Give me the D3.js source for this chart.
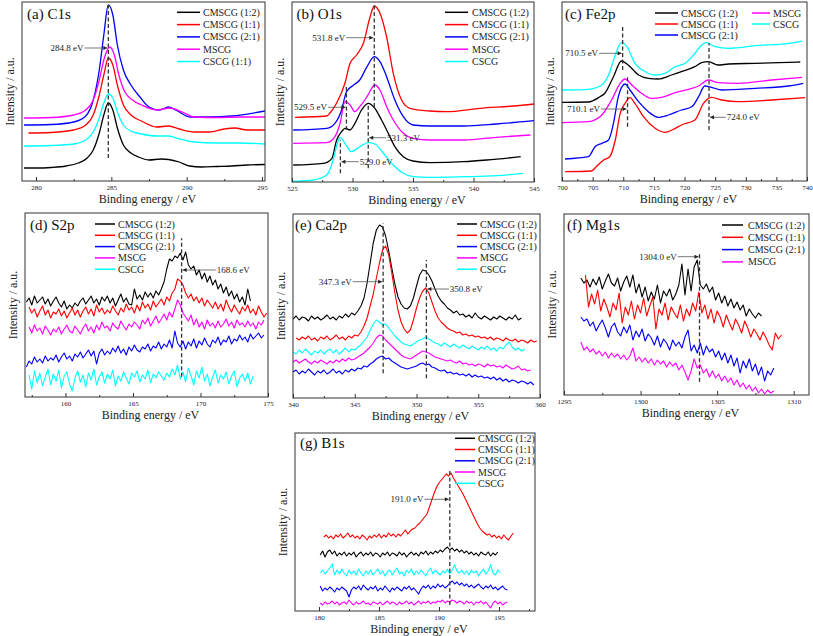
<!DOCTYPE html>
<html>
<head>
<meta charset="utf-8">
<script src="https://cdn.jsdelivr.net/npm/d3@7"></script>
<style>
body{margin:0;background:#fff}
svg{font-family:"Liberation Serif","Times New Roman",serif}
svg text{font-family:"Liberation Serif","Times New Roman",serif}
</style>
</head>
<body>
<svg id="fig" width="813" height="636"></svg>
<script>
// legend names and colours (order: black, red, blue, magenta, cyan)
var namesA = ["CMSCG (1:2)","CMSCG (1:1)","CMSCG (2:1)","MSCG","CSCG (1:1)"];
var names5 = ["CMSCG (1:2)","CMSCG (1:1)","CMSCG (2:1)","MSCG","CSCG"];
var names4 = ["CMSCG (1:2)","CMSCG (1:1)","CMSCG (2:1)","MSCG"];
var lineColors = ["#000000","#ff0000","#0000ff","#ff00ff","#00ffff"];

// (a) C1s  [binding energy, intensity]
var c1sBlack = [[279.2,13],[280,13],[281,13.5],[282,15],[282.8,18],[283.4,23],[283.8,31],[284.2,48],[284.5,66],[284.8,78],[285.1,71],[285.4,53],[285.8,36],[286.3,28],[286.8,24],[287.5,21],[288.3,22],[288.8,21.5],[289.5,19],[290.2,15],[291,14],[292,14.5],[293,15],[294,16],[295.2,16.5]];
var c1sRed = [[279.5,48],[281,48.5],[282.5,51],[283.3,56],[283.8,66],[284.2,86],[284.5,106],[284.8,123],[285.1,116],[285.4,96],[285.8,76],[286.3,66],[287,60],[288,54],[288.8,55],[289.5,52],[290.5,49],[291.5,49],[292.5,52],[293.2,53],[294,51],[295.2,51]];
var c1sBlue = [[279.2,56],[281,56.5],[282.5,59],[283.3,65],[283.8,81],[284.2,111],[284.5,146],[284.8,176],[285.1,166],[285.4,136],[285.8,111],[286.3,96],[286.9,84],[287.5,74],[288.2,71],[288.8,74],[289.4,70],[290.2,64],[291.5,64],[293,65],[295.2,70]];
var c1sMagenta = [[279.2,63],[281,63.5],[282.5,66],[283.3,71],[283.8,81],[284.2,101],[284.5,121],[284.9,134],[285.2,126],[285.5,106],[285.9,89],[286.4,81],[287,76],[288,71],[288.9,73],[289.7,69],[290.5,64],[292,63.5],[293.5,64],[295.2,64]];
var c1sCyan = [[279.2,35],[281,35.5],[282.5,37],[283.3,41],[283.8,49],[284.2,63],[284.5,78],[284.8,87],[285.1,83],[285.4,69],[285.8,56],[286.3,50],[287,47],[288,45],[288.8,45],[289.5,42],[290.5,39],[292,38],[293.5,38],[295.2,37]];

// (b) O1s
var o1sBlack = [[525.1,17],[527.6,18.7],[528.3,23.7],[528.69,42],[529.1,50.3],[529.38,53.7],[529.8,52],[530.2,58.7],[530.75,72],[531.3,78.7],[531.85,73.7],[532.4,62],[532.96,48.7],[533.5,35.3],[534.2,25.3],[535,21],[536.4,19.3],[539.2,20.3],[541.1,22],[543.9,25.3]];
var o1sRed = [[525.25,64.7],[527.87,66],[528.14,69],[528.69,79],[529.38,99],[529.8,118.7],[530.34,127],[530.9,138.7],[531.45,165],[531.8,176],[532.27,168.7],[532.82,145],[533.37,108.7],[534.06,82],[534.75,73.7],[536.4,71],[537.78,70.3],[540.54,73.7],[543.3,76],[545,78]];
var o1sBlue = [[525.1,52],[527.87,53.7],[528.55,58.7],[529.1,72],[529.5,90.3],[530.1,97],[530.6,102],[531.2,115.3],[531.8,125.3],[532.27,120.3],[532.82,105.3],[533.5,82],[534.2,65.3],[535,57],[536.4,56],[539.2,56],[541.9,58],[545,61.3]];
var o1sMagenta = [[525.1,38.7],[527.87,39.3],[528.55,45.3],[528.97,58.7],[529.38,80.3],[529.8,77],[530.2,70.3],[530.6,75.3],[531.2,85.3],[531.85,97],[532.27,92],[532.82,75.3],[533.37,62],[534.2,48.7],[535,43.7],[536.4,42],[539.2,42],[541.9,44.7],[544.7,47]];
var o1sCyan = [[525,0.5],[526.76,2],[527.87,7],[528.4,22],[528.75,38.7],[528.97,44.7],[529.38,38.7],[529.9,30.3],[530.6,35.3],[531.3,39.3],[531.85,38],[532.55,28.7],[533.37,17],[534.2,8.7],[535,5.3],[536.4,4.7],[539.2,5.3],[541.9,6.3],[544.1,8.7]];

// (c) Fe2p
var fe2pBlack = [[700,78.7],[704.3,79],[706.2,84.3],[707,87.7],[708.4,104.3],[709.7,120],[710.8,116],[712.5,106],[714.1,102.7],[715.7,102],[717.9,106],[719.5,109.3],[721.7,114.3],[722.8,118.3],[723.9,119.3],[725.5,116],[727.2,117],[731.5,117.7],[737,118.7],[738.9,119]];
var fe2pRed = [[700.5,9.3],[704.8,10],[705.7,15],[706.8,21],[707.8,24.3],[708.7,41],[709.5,67.7],[710.3,77.7],[711.1,83.3],[711.9,77.7],[713.3,64.3],[715.2,52.7],[716.8,48.7],[718.5,52.7],[719.5,56],[721.7,61],[723.1,77.7],[724.4,83.7],[726.1,81],[728.8,79.3],[734.2,81],[739.7,83.3]];
var fe2pBlue = [[700.5,22],[704.3,24.3],[705.4,34.3],[706.5,37.7],[707.6,41],[708.4,57.7],[709.2,84.3],[710.3,97],[711.1,91],[712.5,79.3],[714.1,69.3],[715.7,63.7],[717.4,66],[719.5,71],[721.2,74.3],[722.3,84.3],[723.3,95],[724.4,93.7],[726.1,91],[731.5,92.7],[737,95],[739.4,97.7]];
var fe2pMagenta = [[700,58.3],[704.3,59.3],[706.5,66],[708.1,81],[709.5,97.7],[710.3,102],[711.4,96],[713,87.7],[714.6,82.7],[716.3,83.7],[718.5,88.3],[720.6,91.7],[722.3,95],[723.9,101],[725.5,98.3],[728.8,97.7],[734.2,101],[739.2,103.7]];
var fe2pCyan = [[700,91],[704.3,91.7],[706.5,96],[707.6,106],[708.7,126],[709.7,138.3],[710.6,134.3],[711.9,117.7],[713.6,109.3],[715.2,106],[716.8,107.7],[718.5,114.3],[720.1,117.7],[721.7,127.7],[722.8,136],[723.6,138.3],[725,134.3],[727.2,132.7],[731.5,135.3],[737,137.7],[739.2,140]];

// (d) S2p, evenly sampled: [start, step] and intensities
var s2pBlack = [157.1, 0.2, [95,99,92,101,94,97,100,93,98,91, 96,100,94,90,96,88,92,89,94,91, 96,99,93,97,101,94,98,92,100,96, 101,94,99,91,97,103,95,99,93,92, 108,98,102,97,105,100,104,99,106,102, 108,115,128,138,136,141,139,144,137,145, 132,128,131,122,127,118,124,115,121,112, 117,108,113,104,110,101,106,98,103,95, 100,92,108,96]];
var s2pRed = [157.3, 0.2, [90,84,88,80,86,91,82,87,79,85, 83,88,81,86,79,84,89,82,87,80, 86,90,83,88,81,92,85,89,83,87, 84,91,86,82,89,85,93,87,90,84, 92,86,95,89,93,87,96,90,94,98, 92,100,96,104,108,118,116,112,104,99, 103,96,100,94,99,91,97,93,89,95, 88,93,86,97,90,85,92,87,83,90, 86,92,84,88,82,91,85,80,84]];
var s2pBlue = [157.1, 0.2, [30,36,33,40,35,38,34,41,36,39, 37,42,35,40,44,38,41,36,43,40, 45,39,43,47,41,46,33,44,48,42, 46,43,49,45,51,44,48,42,50,46, 52,47,45,50,48,53,46,51,49,55, 48,53,50,57,49,66,54,50,56,48, 55,51,58,49,56,52,59,53,50,57, 54,60,52,57,55,61,53,58,56,62, 57,60,55,63,58,61,64,59,62]];
var s2pMagenta = [157.3, 0.2, [70,64,72,66,69,63,71,67,62,68, 65,70,63,68,72,66,64,71,67,63, 69,73,66,70,64,72,67,75,69,71, 66,74,70,68,76,71,67,73,70,75, 72,68,77,73,79,71,76,81,74,78, 83,77,85,80,88,97,92,84,80,76, 82,72,78,70,75,68,77,71,74,69, 76,70,73,78,71,75,69,77,72,74, 70,76,71,74,68,75,72,77]];
var s2pCyan = [157.3, 0.2, [22,8,26,14,24,11,20,28,12,23, 16,27,9,21,25,13,6,19,26,15, 22,10,24,17,28,12,20,25,14,23, 18,27,11,21,16,25,19,13,24,20, 26,15,22,18,27,14,23,19,25,21, 17,24,20,28,22,32,18,25,15,29, 21,12,26,19,30,16,23,11,20,27, 14,22,18,25,13,21,26,10,19,23, 16,24,13,21]];

// (e) Ca2p
var ca2pBlack = [340, 0.25, [79,82,78,81,80,77,82,79,81,78, 80,83,79,81,78,82,80,84,81,85, 83,87,92,100,115,135,155,168,173,171, 162,147,130,114,101,94,90,89,92,100, 112,123,128,127,123,117,109,102,97,94, 90,88,85,87,83,84,81,83,80,85, 81,79,82,80,78,81,79,82,80,78, 81,79,83,78,80]];
var ca2pRed = [340.25, 0.25, [60,58,61,59,62,58,60,57,61,59, 62,58,60,63,59,61,58,62,60,63, 62,66,72,80,92,104,120,135,148,152, 143,125,105,88,76,69,65,68,78,90, 100,107,110,105,96,87,80,76,73,70, 68,67,65,66,63,64,62,63,61,62, 60,61,59,61,58,60,59,57,60,58, 57,59,56,58,57,55,58,56,57]];
var ca2pBlue = [340, 0.25, [26,28,24,27,25,29,26,23,27,25, 28,24,26,29,25,27,24,28,26,29, 27,30,29,32,31,34,36,39,41,42, 39,40,37,35,33,31,30,29,30,31, 32,34,35,33,34,31,30,28,27,28, 25,26,24,25,23,24,22,24,21,23, 21,22,20,21,19,21,18,20,17,19, 16,18,17,15,17,16,14,16,13]];
var ca2pMagenta = [340, 0.25, [36,38,35,37,39,36,34,37,35,38, 36,34,37,35,38,36,39,37,40,38, 39,41,43,45,48,51,55,60,63,62, 58,55,52,49,46,43,41,40,39,41, 43,45,47,46,45,43,41,40,39,38, 37,38,36,35,37,34,35,33,34,32, 34,33,31,34,32,33,31,32,30,33, 31,29,30,32,28,29,27,28]];
var ca2pCyan = [340, 0.25, [46,44,48,45,49,46,43,47,45,48, 44,47,49,45,48,44,47,50,46,49, 48,51,53,57,61,68,74,78,76,73, 74,70,66,62,59,56,54,53,52,54, 56,58,59,61,59,57,55,54,52,55, 53,51,54,52,50,53,51,49,52,50, 48,51,49,52,48,50,47,51,49,53, 56,51,48,50,47,49]];

// (f) Mg1s
var mg1sBlack = [1296.1, 0.2, [117,112,115,108,116,110,118,106,114,121, 112,109,117,104,113,119,108,120,102,111, 98,108,94,103,96,110,92,104,99,106, 95,101,110,131,100,126,104,128,135,110, 106,111,103,108,95,102,92,99,89,96, 87,93,85,90,79,86,81,77,82,79]];
var mg1sRed = [1296.4, 0.2, [120,88,101,91,105,84,96,88,78,92, 85,102,72,88,80,94,76,90,82,97, 79,89,98,66,86,80,92,75,88,82, 77,90,74,86,79,92,84,103,82,90, 76,86,72,84,78,68,80,72,65,76, 70,62,74,67,58,66,61,55,63,57, 50,45,62,56,60]];
var mg1sBlue = [1296.1, 0.2, [78,74,76,69,73,64,70,75,67,58, 68,72,63,59,68,62,70,55,64,58, 66,54,61,57,50,59,48,56,52,45, 55,49,53,47,58,65,44,50,42,52, 40,49,43,46,38,44,35,42,32,40, 29,37,22,34,27,36,24,31,20,28, 14,24,20,27]];
var mg1sMagenta = [1296.1, 0.2, [53,45,48,43,46,41,44,39,43,37, 42,38,41,36,40,35,39,47,34,38, 33,37,32,36,30,35,31,34,28,33, 29,32,25,30,23,15,24,36,27,30, 22,26,18,24,17,21,14,19,13,17, 10,15,8,12,6,10,4,8,2,6, 1,5,2,4]];

// (g) B1s
var b1sBlack = [180.1, 0.2, [56,60,54,59,61,57,60,55,58,56, 59,55,58,56,59,54,57,59,55,58, 56,59,55,58,57,54,58,56,59,55, 58,57,55,59,56,58,54,57,59,56, 58,55,59,57,60,56,59,57,60,58, 61,59,62,64,61,63,60,62,59,61, 58,60,57,59,56,58,55,59,57,56, 59,55,58,56,59]];
var b1sRed = [180.4, 0.2, [74,76,73,75,72,76,74,77,73,75, 78,74,76,73,75,72,76,74,71,75, 73,76,74,77,73,76,74,78,75,77, 74,77,75,78,81,77,80,82,83,86, 88,91,94,97,104,111,118,124,128,131, 134,137,135,138,133,129,125,121,117,112, 107,102,97,92,87,83,80,78,76,77, 74,76,73,75,72,76,73,71,75,78]];
var b1sBlue = [180.1, 0.2, [25,20,23,21,24,22,19,23,21,24, 22,20,14,21,24,22,25,21,26,23, 21,24,22,25,20,23,21,25,22,19, 23,21,24,22,20,24,22,25,21,23, 20,17,22,25,23,26,22,25,23,27, 24,26,23,25,28,30,27,29,26,28, 25,27,24,26,23,25,27,24,22,25, 23,26,22,24,21,23,25,22,21]];
var b1sMagenta = [180.1, 0.2, [8,6,9,7,8,10,7,9,6,8, 9,7,11,8,6,9,7,8,10,7, 8,6,9,8,7,9,6,8,10,7, 9,8,6,9,7,8,10,7,9,6, 8,10,7,9,8,10,7,9,8,10, 9,11,8,10,9,11,10,8,10,9, 7,10,8,9,6,9,8,10,7,9, 6,3,8,10,7,9,6,8,9]];
var b1sCyan = [180.1, 0.2, [38,41,37,40,43,47,36,41,37,42, 38,35,41,37,40,36,42,38,35,40, 37,41,36,39,42,37,40,35,39,41, 36,40,43,37,39,35,41,38,42,36, 40,37,41,38,35,40,43,37,41,38, 36,40,38,42,37,41,46,40,38,41, 37,40,36,41,38,40,35,39,42,37, 40,46,38,36,41,38]];

function even(s) {
    return s[2].map(function(v, i){ return [s[0] + i * s[1], v]; });
}

var panels = [
    {title:"(a) C1s", box:[22,265,2,181], xd:[279.07,295.2], ticks:[280,285,290,295], minor:[282.5,287.5,292.5],
     smooth:true, series:[c1sBlack,c1sRed,c1sBlue,c1sMagenta,c1sCyan], names:namesA,
     leg:{x0:177,x1:200,tx:203,rows:[12.3,24.6,36.9,49.2,61.5]}, tpos:[27,18.5],
     marks:[{at:284.8,v0:23,v1:176,text:"284.8 eV",tx:283.15,tv:133,side:"L"}]},
    {title:"(b) O1s", box:[292,534,2,182], xd:[525,545], ticks:[525,530,535,540,545], minor:[527.5,532.5,537.5,542.5],
     smooth:true, series:[o1sBlack,o1sRed,o1sBlue,o1sMagenta,o1sCyan], names:names5,
     leg:{x0:445,x1:468,tx:472,rows:[12.3,24.6,36.9,49.2,61.5]}, tpos:[296.5,18.5],
     marks:[{at:531.8,v0:75,v1:177,text:"531.8 eV",tx:529.4,tv:144.3,side:"L"},
            {at:529.5,v0:52,v1:97,text:"529.5 eV",tx:527.9,tv:74.7,side:"L"},
            {at:531.3,v0:13.7,v1:77,text:"531.3 eV",tx:532.85,tv:44.3,side:"R"},
            {at:529.0,v0:8.7,v1:42,text:"529.0 eV",tx:530.6,tv:20.3,side:"R"}]},
    {title:"(c) Fe2p", box:[562,807,2,181], xd:[700,740], ticks:[700,705,710,715,720,725,730,735,740], minor:[702.5,707.5,712.5,717.5,722.5,727.5,732.5,737.5],
     smooth:true, series:[fe2pBlack,fe2pRed,fe2pBlue,fe2pMagenta,fe2pCyan], names:names5,
     leg:{x0:655,x1:678,tx:681,rows:[13,24,35], x0b:752,x1b:770,txb:773}, tpos:[565,18.5],
     marks:[{at:709.9,v0:111,v1:154.3,text:"710.5 eV",tx:705.9,tv:127.7,side:"L"},
            {at:710.7,v0:54.3,v1:104.3,text:"710.1 eV",tx:706.2,tv:72,side:"L"},
            {at:724.0,v0:51,v1:137.7,text:"724.0 eV",tx:726.9,tv:63.7,side:"R"}]},
    {title:"(d) S2p", box:[25,268,213,397], xd:[157,175], ticks:[160,165,170,175], minor:[157.5,162.5,167.5,172.5],
     smooth:false, series:[even(s2pBlack),even(s2pRed),even(s2pBlue),even(s2pMagenta),even(s2pCyan)], names:names5,
     leg:{x0:95,x1:115,tx:118,rows:[224,235.3,246.6,257.9,269.2]}, tpos:[30,230],
     marks:[{at:168.6,v0:20.3,v1:158.7,text:"168.6 eV",tx:171.2,tv:127,side:"R"}]},
    {title:"(e) Ca2p", box:[293,540,214,398], xd:[340,360], ticks:[340,345,350,355,360], minor:[342.5,347.5,352.5,357.5],
     smooth:false, series:[even(ca2pBlack),even(ca2pRed),even(ca2pBlue),even(ca2pMagenta),even(ca2pCyan)], names:names5,
     leg:{x0:457,x1:477,tx:480,rows:[224,235.3,246.6,257.9,269.2]}, tpos:[295,230],
     marks:[{at:347.3,v0:24.7,v1:174.7,text:"347.3 eV",tx:344.75,tv:116.3,side:"L"},
            {at:350.8,v0:19.7,v1:138,text:"350.8 eV",tx:352.7,tv:109,side:"R"}]},
    {title:"(f) Mg1s", box:[564,809,214,395], xd:[1295,1311], ticks:[1295,1300,1305,1310], minor:[1297.5,1302.5,1307.5],
     smooth:false, series:[even(mg1sBlack),even(mg1sRed),even(mg1sBlue),even(mg1sMagenta)], names:names4,
     leg:{x0:722,x1:743,tx:748,rows:[225,237.3,249.6,261.9]}, tpos:[567,229.5],
     marks:[{at:1303.85,v0:13.3,v1:141.7,text:"1304.0 eV",tx:1302.36,tv:138.3,side:"L"}]},
    {title:"(g) B1s", box:[295,535,433,611], xd:[178,198], ticks:[180,185,190,195], minor:[182.5,187.5,192.5,197.5],
     smooth:false, series:[even(b1sBlack),even(b1sRed),even(b1sBlue),even(b1sMagenta),even(b1sCyan)], names:names5,
     leg:{x0:455,x1:475,tx:478,rows:[438.3,449.5,460.8,472,483.3]}, tpos:[300,448],
     marks:[{at:190.9,v0:6,v1:141,text:"191.0 eV",tx:188.7,tv:111.7,side:"L"}]}
];

var serif = "Liberation Serif, Times New Roman, serif";
var svg = d3.select("#fig");
svg.append("rect").attr("width",813).attr("height",636).attr("fill","#fff");

var defs = svg.append("defs");
defs.append("marker").attr("id","arr")
    .attr("viewBox","0 0 6 6").attr("refX",6).attr("refY",3)
    .attr("markerWidth",5).attr("markerHeight",4).attr("markerUnits","userSpaceOnUse")
    .attr("orient","auto")
    .append("path").attr("d","M0,0L6,3L0,6Z").attr("fill","#222");

//draws one spectrum panel
function drawPanel(p, k)
{
    var L = p.box[0], R = p.box[1], T = p.box[2], B = p.box[3];
    var x = d3.scaleLinear().domain(p.xd).range([L, R]);
    var y = d3.scaleLinear().domain([0, B - T]).range([B, T]);
    var g = svg.append("g").attr("font-family", serif);

    defs.append("clipPath").attr("id","clip" + k)
        .append("rect").attr("x",L).attr("y",T).attr("width",R-L).attr("height",B-T);

    var line = d3.line()
        .x(function(d){ return x(d[0]); })
        .y(function(d){ return y(d[1]); })
        .curve(p.smooth ? d3.curveMonotoneX : d3.curveLinear);

    var lines = g.append("g").attr("clip-path","url(#clip" + k + ")");
    p.series.forEach(function(s, i){
        lines.append("path").attr("d", line(s))
            .attr("fill","none").attr("stroke", lineColors[i])
            .attr("stroke-width", p.smooth ? 1.3 : 1.1)
            .attr("stroke-linejoin","round");
    });

    //peak markers
    p.marks.forEach(function(m){
        g.append("line")
            .attr("x1", x(m.at)).attr("x2", x(m.at))
            .attr("y1", y(m.v0)).attr("y2", y(m.v1))
            .attr("stroke","#333").attr("stroke-width",1.3).attr("stroke-dasharray","4,2.5");
        var tx = x(m.tx), ty = y(m.tv);
        g.append("text").attr("x", tx).attr("y", ty + 3)
            .attr("text-anchor", m.side == "L" ? "end" : "start")
            .attr("font-size", 9).attr("fill","#222").text(m.text);
        var a0 = m.side == "L" ? tx + 1 : tx - 1;
        var a1 = m.side == "L" ? x(m.at) - 1 : x(m.at) + 1;
        g.append("line").attr("x1", a0).attr("x2", a1).attr("y1", ty).attr("y2", ty)
            .attr("stroke","#555").attr("stroke-width",0.8).attr("marker-end","url(#arr)");
    });

    //axis with inward ticks
    var ax = g.append("g").attr("transform","translate(0," + B + ")")
        .call(d3.axisBottom(x).tickValues(p.ticks).tickSize(-4).tickSizeOuter(0).tickPadding(4).tickFormat(d3.format("d")));
    ax.attr("font-family", serif);
    ax.select(".domain").remove();
    ax.selectAll("line").attr("stroke","#333");
    ax.selectAll("text").attr("font-size",7).attr("fill","#222");
    var mx = g.append("g").attr("transform","translate(0," + B + ")")
        .call(d3.axisBottom(x).tickValues(p.minor).tickSize(-2).tickSizeOuter(0).tickFormat(""));
    mx.select(".domain").remove();
    mx.selectAll("line").attr("stroke","#333");

    g.append("rect").attr("x",L).attr("y",T).attr("width",R-L).attr("height",B-T)
        .attr("fill","none").attr("stroke","#333").attr("stroke-width",1);

    g.append("text").attr("x",(L + R) / 2 + 4).attr("y",B + 21.5)
        .attr("text-anchor","middle").attr("font-size",12).attr("fill","#222")
        .text("Binding energy / eV");
    g.append("text").attr("transform","translate(" + (L - 8) + "," + ((T + B) / 2) + ") rotate(-90)")
        .attr("text-anchor","middle").attr("font-size",12).attr("fill","#222")
        .text("Intensity / a.u.");

    g.append("text").attr("x",p.tpos[0]).attr("y",p.tpos[1])
        .attr("font-size",15).attr("fill","#111").text(p.title);

    //legend
    p.names.forEach(function(n, i){
        var lx0 = p.leg.x0, lx1 = p.leg.x1, ltx = p.leg.tx, ry;
        if(p.leg.x0b != undefined && i >= 3)
        {
            lx0 = p.leg.x0b; lx1 = p.leg.x1b; ltx = p.leg.txb;
            ry = p.leg.rows[i - 3];
        }
        else
            ry = p.leg.rows[i];
        g.append("line").attr("x1",lx0).attr("x2",lx1).attr("y1",ry).attr("y2",ry)
            .attr("stroke",lineColors[i]).attr("stroke-width",1.5);
        g.append("text").attr("x",ltx).attr("y",ry + 3.5)
            .attr("font-size",10).attr("fill","#222").text(n);
    });
}

panels.forEach(drawPanel);
</script>
</body>
</html>
